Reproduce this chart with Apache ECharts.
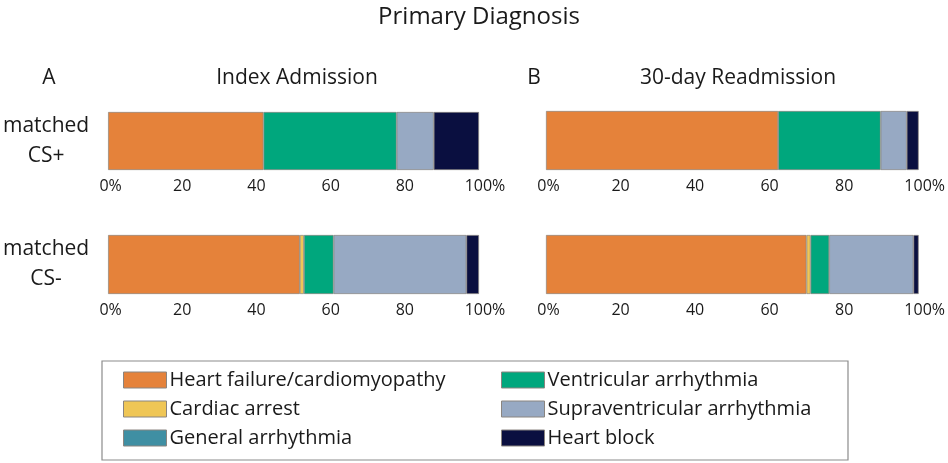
<!DOCTYPE html>
<html>
<head>
<meta charset="utf-8">
<script src="https://cdn.jsdelivr.net/npm/echarts@6/dist/echarts.min.js"></script>
<style>
  html, body { margin: 0; padding: 0; background: #fff; }
  #chart { width: 948px; height: 463px; }
</style>
</head>
<body>
<div id="chart"></div>
<script>
// panels in order: A matched CS+, A matched CS-, B matched CS+, B matched CS-
const panels = ['A-top', 'A-bottom', 'B-top', 'B-bottom'];
const rowLabels = ['matched\nCS+', 'matched\nCS-', 'matched\nCS+', 'matched\nCS-'];
const diagnoses = [
  'Heart failure/cardiomyopathy',
  'Cardiac arrest',
  'General arrhythmia',
  'Ventricular arrhythmia',
  'Supraventricular arrhythmia',
  'Heart block'
];
const heartFailure     = [41.9, 51.7, 62.3, 69.9];
const cardiacArrest    = [0, 1.1, 0, 1.1];
const generalArrhythmia = [0, 0, 0, 0];
const ventricular      = [35.9, 8.0, 27.5, 5.0];
const supraventricular = [10.0, 35.8, 7.0, 22.6];
const heartBlock       = [12.2, 3.4, 3.2, 1.4];
const xTicks = [0, 20, 40, 60, 80, 100];

const values = [heartFailure, cardiacArrest, generalArrhythmia, ventricular, supraventricular, heartBlock];
const colors = ['#e5823a', '#efc656', '#3f8fa3', '#00a77d', '#97a9c3', '#0a0f40'];

const FONT = '"Open Sans", sans-serif';
const TEXT = '#1a1a1a';

const chart = echarts.init(document.getElementById('chart'));

const grids = [
  { left: 105, top: 112, width: 374, height: 58 },
  { left: 105, top: 235, width: 374, height: 59 },
  { left: 546, top: 111, width: 375, height: 59 },
  { left: 546, top: 235, width: 375, height: 59 }
];

const xAxes = grids.map((g, i) => ({
  gridIndex: i,
  type: 'value',
  min: xTicks[0],
  max: xTicks[xTicks.length - 1],
  interval: 20,
  splitLine: { show: false },
  axisLine: { show: false },
  axisTick: { show: false },
  axisLabel: {
    margin: 8,
    fontFamily: FONT,
    fontSize: 16,
    color: TEXT,
    showMinLabel: true,
    showMaxLabel: true,
    formatter: v => v === 0 ? '{a|0%}' : v === 100 ? '{b|100%}' : String(v),
    rich: {
      a: { fontFamily: FONT, fontSize: 16, color: TEXT, padding: [0, 0, 0, 5] },
      b: { fontFamily: FONT, fontSize: 16, color: TEXT, padding: [0, 0, 0, 12] }
    }
  }
}));

const yAxes = grids.map((g, i) => ({
  gridIndex: i,
  type: 'category',
  data: [rowLabels[i]],
  axisLine: { show: false },
  axisTick: { show: false },
  axisLabel: {
    show: i < 2,
    margin: 62,
    align: 'center',
    fontFamily: FONT,
    fontSize: 21,
    lineHeight: 30,
    color: TEXT
  }
}));

const series = [];
panels.forEach((p, i) => {
  diagnoses.forEach((name, k) => {
    series.push({
      name: name,
      type: 'bar',
      stack: p,
      xAxisIndex: i,
      yAxisIndex: i,
      barWidth: '100%',
      data: [values[k][i]],
      itemStyle: {
        color: colors[k],
        borderColor: '#8a8580',
        borderWidth: values[k][i] > 0 ? 0.7 : 0
      },
      emphasis: { disabled: true }
    });
  });
});

const legendBase = {
  orient: 'vertical',
  top: 370,
  padding: 0,
  itemWidth: 43,
  itemHeight: 16,
  itemGap: 9,
  icon: 'rect',
  selectedMode: false,
  textStyle: { fontFamily: FONT, fontSize: 20, color: TEXT, padding: [0, 0, 0, -2] },
  itemStyle: { borderColor: '#8a8580', borderWidth: 1 }
};

const option = {
  animation: false,
  backgroundColor: '#fff',
  title: [
    { text: 'Primary Diagnosis', left: 474, top: 0, textAlign: 'center',
      textStyle: { fontFamily: FONT, fontSize: 24, fontWeight: 'normal', color: TEXT } },
    { text: 'A', left: 44, top: 63, textAlign: 'center',
      textStyle: { fontFamily: FONT, fontSize: 21, fontWeight: 'normal', color: TEXT } },
    { text: 'Index Admission', left: 292, top: 63, textAlign: 'center',
      textStyle: { fontFamily: FONT, fontSize: 21, fontWeight: 'normal', color: TEXT } },
    { text: 'B', left: 529, top: 63, textAlign: 'center',
      textStyle: { fontFamily: FONT, fontSize: 21, fontWeight: 'normal', color: TEXT } },
    { text: '30-day Readmission', left: 733, top: 63, textAlign: 'center',
      textStyle: { fontFamily: FONT, fontSize: 21, fontWeight: 'normal', color: TEXT } }
  ],
  legend: [
    Object.assign({}, legendBase, { left: 123, data: diagnoses.slice(0, 3) }),
    Object.assign({}, legendBase, { left: 501, data: diagnoses.slice(3) })
  ],
  graphic: [
    { type: 'rect', shape: { x: 102, y: 361, width: 746, height: 99 },
      style: { fill: 'none', stroke: '#8c8c8c', lineWidth: 1.2 }, silent: true }
  ],
  grid: grids,
  xAxis: xAxes,
  yAxis: yAxes,
  series: series
};

chart.setOption(option);
</script>
</body>
</html>
